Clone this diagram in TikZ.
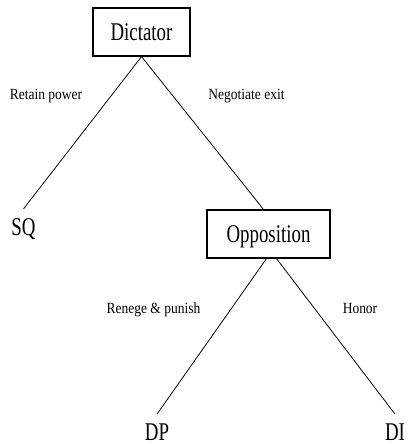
\documentclass[tikz,border=0pt]{standalone}
\usepackage{fontspec}
\setmainfont{Liberation Serif}
\newfontfamily\playerfont{Liberation Serif}[FakeStretch=0.74]
\newfontfamily\movefont{Liberation Serif}[FakeStretch=0.87]
\usepackage{tikz}
\usetikzlibrary{positioning}

\tikzset{
  player/.style={draw, line width=1.2pt, minimum height=48pt, inner sep=0pt,
    text height=17pt, text depth=0pt, font=\playerfont\fontsize{25.5}{28}\selectfont},
  outcome/.style={anchor=base, inner xsep=0pt, inner ysep=9pt,
    font=\playerfont\fontsize{25.5}{28}\selectfont},
  move/.style={anchor=base, inner sep=0pt, font=\movefont\fontsize{15.5}{18}\selectfont},
  branch/.style={line width=0.8pt}
}

\begin{document}
\begin{tikzpicture}[x=1pt,y=-1pt]
    \useasboundingbox (0,0) rectangle (409,444);
    \node[player, minimum width=97pt]  (dict) at (141.5,32)  {Dictator};
    \node[player, minimum width=123pt] (opp)  at (268.5,234) {Opposition};
    \node[outcome] (sq) at (23.5,235) {SQ};
    \node[outcome] (dp) at (157,440)  {DP};
    \node[outcome] (di) at (395,440)  {DI};
    \node[move] (retain)    at (46,99)     {Retain power};
    \node[move] (negotiate) at (246.5,99)  {Negotiate exit};
    \node[move] (renege)    at (153.5,313) {Renege \& punish};
    \node[move] (honor)     at (360,313)   {Honor};
    \draw[branch] (dict.south) -- (sq.north);
    \draw[branch] (dict.south) -- ([xshift=-5pt]opp.north);
    \draw[branch] ([xshift=-2pt]opp.south) -- (dp.north);
    \draw[branch] ([xshift=8pt]opp.south) -- (di.north);
  \end{tikzpicture}
\end{document}
